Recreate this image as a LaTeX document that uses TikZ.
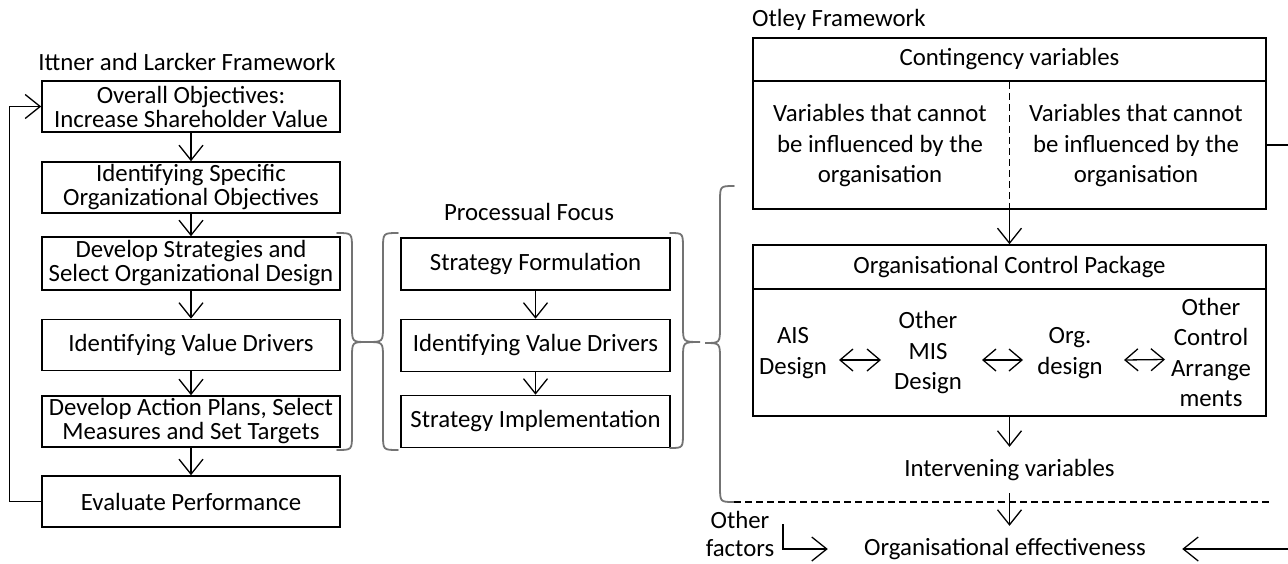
\documentclass[tikz,border=0pt]{standalone}
\usepackage{fontspec}
\setmainfont{Carlito}
\usetikzlibrary{arrows.meta}
\newcommand\fsA{\fontsize{24.8}{24}\selectfont}
\newcommand\fsB{\fontsize{24.8}{30.5}\selectfont}
\newcommand\mybrace[7]{\draw[bracestyle] (#1,#2) .. controls (#3,#2) .. (#3,#2+#7) -- (#3,#5-#7) .. controls (#3,#5) .. (#4,#5) .. controls (#3,#5) .. (#3,#5+#7) -- (#3,#6-#7) .. controls (#3,#6) .. (#1,#6);}
\begin{document}
\begin{tikzpicture}[x=1pt,y=-1pt,
  lbox/.style={draw=black, line width=1.6pt, inner sep=0pt, align=center, font=\fsA, minimum width=298pt, minimum height=51pt},
  mbox/.style={draw=black, line width=1.6pt, inner sep=0pt, align=center, font=\fsA, minimum width=269pt, minimum height=52pt},
  rbox/.style={draw=black, line width=1.6pt, inner sep=0pt, align=center, font=\fsB, minimum width=513pt},
  txt/.style={inner sep=0pt, align=center, font=\fsB},
  arr/.style={draw=black, line width=1.3pt, -{Straight Barb[length=15pt,width=24pt]}},
  darr/.style={draw=black, line width=1.3pt, {Straight Barb[length=13pt,width=22pt]}-{Straight Barb[length=13pt,width=22pt]}},
  dashline/.style={draw=black, line width=1.3pt, dash pattern=on 7pt off 4pt},
  bracestyle/.style={draw=black!55, line width=1.8pt, line cap=round}]
\useasboundingbox (0,0) rectangle (1288,563);

% titles
\node[txt] (t1) at (187,62) {Ittner and Larcker Framework};
\node[txt] (t2) at (529,212) {Processual Focus};
\node[txt, anchor=west] (t3) at (752,20) {Otley Framework};

% left column
\node[lbox] (b1) at (191,106.5) {Overall Objectives:\\Increase Shareholder Value};
\node[lbox] (b2) at (191,187.5) {Identifying Specific\\Organizational Objectives};
\node[lbox, minimum height=53pt] (b3) at (191,263.5) {Develop Strategies and\\Select Organizational Design};
\node[lbox] (b4) at (191,345) {Identifying Value Drivers};
\node[lbox] (b5) at (191,421.5) {Develop Action Plans, Select\\Measures and Set Targets};
\node[lbox] (b6) at (191,501.5) {Evaluate Performance};
\draw[arr] (b1) -- (b2);
\draw[arr] (b2) -- (b3);
\draw[arr] (b3) -- (b4);
\draw[arr] (b4) -- (b5);
\draw[arr] (b5) -- (b6);
\draw[arr] (b6.west) -- ++(-32,0) |- (b1.west);

% middle column
\node[mbox] (m1) at (535.5,264) {Strategy Formulation};
\node[mbox] (m2) at (535.5,345.5) {Identifying Value Drivers};
\node[mbox] (m3) at (535.5,421.5) {Strategy Implementation};
\draw[arr] (m1) -- (m2);
\draw[arr] (m2) -- (m3);

% braces
\mybrace{337}{233}{352}{367}{342}{450}{16}
\mybrace{398}{233}{383}{367}{342}{450}{16}
\mybrace{670}{233}{683}{700}{342}{448}{16}
\mybrace{734}{186}{720}{705}{343}{502}{16}

% Otley framework
\node[rbox, minimum height=43pt] (ch) at (1009.5,59.5) {Contingency variables};
\node[rbox, minimum height=128pt] (cb) at (1009.5,145) {};
\node[txt] (c1) at (880,146) {Variables that cannot\\be influenced by the\\organisation};
\node[txt] (c2) at (1136,146) {Variables that cannot\\be influenced by the\\organisation};
\draw[dashline] (ch.south) -- (cb.south);

\node[rbox, minimum height=44pt] (oh) at (1009.5,267) {Organisational Control Package};
\node[rbox, minimum height=127pt] (ob) at (1009.5,352.5) {};
\draw[arr] (cb.south) -- (oh.north);

\node[txt] (ais) at (793,353) {AIS\\Design};
\node[txt] (mis) at (928,353) {Other\\MIS\\Design};
\node[txt] (org) at (1070,353) {Org.\\design};
\node[txt] (oca) at (1211,352.5) {Other\\Control\\Arrange\\ments};
\draw[darr] ([xshift=46pt,yshift=-7pt]ais.center) -- ([xshift=-47pt,yshift=-7pt]mis.center);
\draw[darr] ([xshift=54pt,yshift=-7pt]mis.center) -- ([xshift=-47pt,yshift=-7pt]org.center);
\draw[darr] ([xshift=54pt,yshift=-7pt]org.center) -- ([xshift=-46pt,yshift=-7pt]oca.center);

\node[txt, minimum height=46pt] (iv) at (1009.5,470) {Intervening variables};
\node[txt, minimum width=354pt, minimum height=46pt] (eff) at (1005,549) {Organisational effectiveness};
\draw[arr] (ob.south) -- (iv.north);
\draw[arr] (iv.south) -- (iv.south |- eff.north);

\coordinate (dl) at (734,502);
\coordinate (dr) at (1269,502);
\draw[dashline] (dl) -- (dr);

\draw[arr] (cb.east) -- ++(26,0) |- (eff.east);

\node[txt, font=\fontsize{24.8}{28}\selectfont] (of) at (740,534) {Other\\factors};
\coordinate (ofc) at (783,524);
\draw[arr] (ofc) |- (eff.west);
\end{tikzpicture}
\end{document}
